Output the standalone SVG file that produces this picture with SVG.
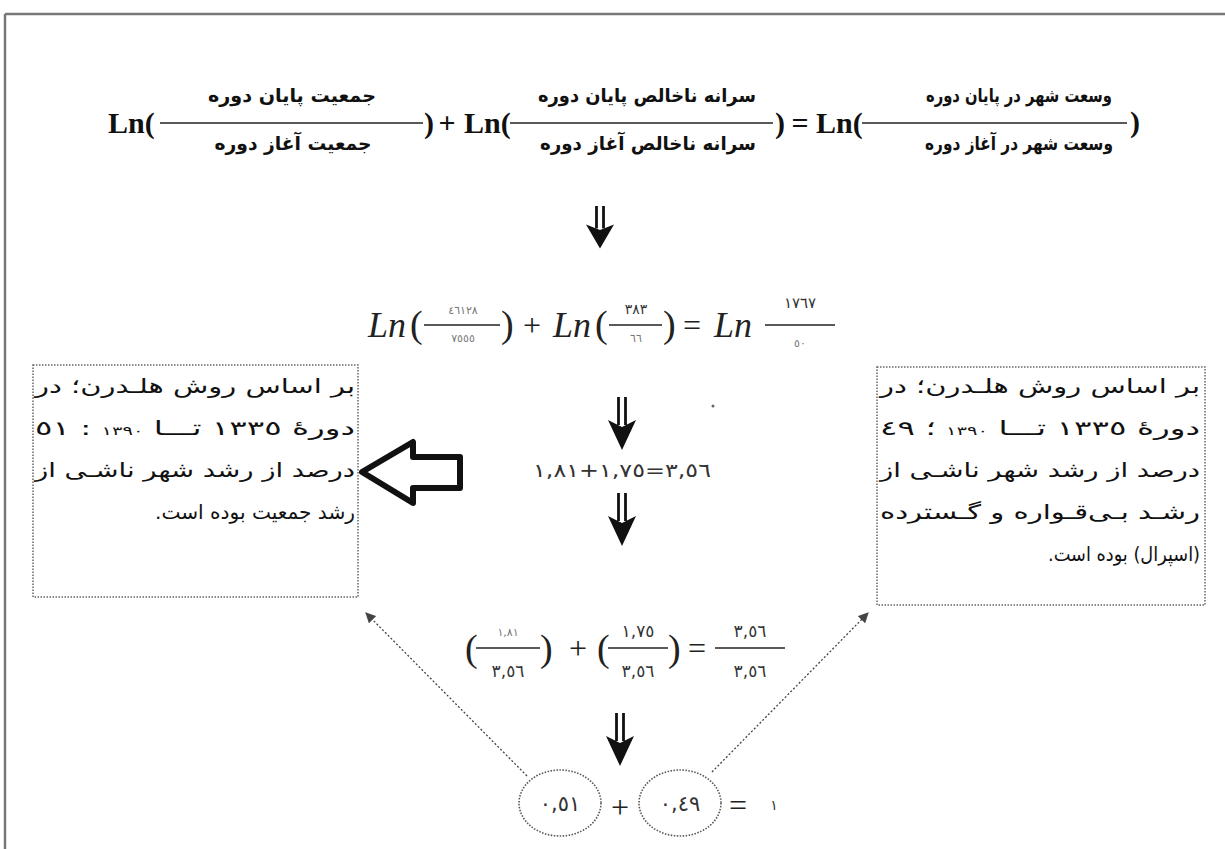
<svg xmlns="http://www.w3.org/2000/svg" width="1225" height="849" viewBox="0 0 1225 849">
<defs>
<style>
.ar{font-family:"DejaVu Sans",sans-serif;direction:rtl}
.hd{font-weight:bold;font-size:19px;fill:#111}
.lnb{font-family:"Liberation Serif",serif;font-weight:bold;font-size:30px;fill:#111}
.lni{font-family:"Liberation Serif",serif;font-style:italic;font-size:36px;fill:#222}
.par{font-family:"Liberation Serif",serif;font-size:38px;fill:#222}
.op{font-family:"Liberation Serif",serif;font-size:32px;fill:#222;text-anchor:middle}
.fl{stroke:#222;stroke-width:1.6}
.dig{font-family:"DejaVu Sans",sans-serif;fill:#333;text-anchor:middle}
.sm{font-size:11px;fill:#777}
.md{font-size:17px}
.box{fill:#fff;stroke:#666;stroke-width:1.5;stroke-dasharray:1.5 1.5}
.bt{font-family:"DejaVu Sans",sans-serif;font-size:20px;fill:#111;direction:rtl}
.dl{stroke:#444;stroke-width:1.3;stroke-dasharray:2 2;fill:none}
.el{fill:#fff;stroke:#555;stroke-width:1.6;stroke-dasharray:1.5 1.5}
</style>
<g id="dbl">
<line x1="-3.5" y1="0" x2="-3.5" y2="28" stroke="#111" stroke-width="2.8"/>
<line x1="3.5" y1="0" x2="3.5" y2="28" stroke="#111" stroke-width="2.8"/>
<polygon points="-14,23 0,30 14,23 0,53" fill="#111"/>
</g>
<marker id="ah" viewBox="0 0 10 10" refX="9" refY="5" markerWidth="8" markerHeight="8" orient="auto"><path d="M0,0 L10,5 L0,10 z" fill="#444"/></marker>
</defs>
<rect width="1225" height="849" fill="#fff"/>
<g id="frame">
<line x1="5" y1="14" x2="1225" y2="14" stroke="#777" stroke-width="2.5"/>
<line x1="5" y1="14" x2="5" y2="849" stroke="#777" stroke-width="2.5"/>
</g>
<g id="eq1">
<text class="lnb" x="108" y="133">Ln(</text>
<line class="fl" x1="160" y1="123" x2="423" y2="123"/>
<text class="ar hd" x="292" y="102" text-anchor="middle" textLength="168" lengthAdjust="spacingAndGlyphs">جمعیت پایان دوره</text>
<text class="ar hd" x="293" y="150" text-anchor="middle" textLength="157" lengthAdjust="spacingAndGlyphs">جمعیت آغاز دوره</text>
<text class="lnb" x="424" y="133">)</text>
<text class="lnb" x="447" y="133" text-anchor="middle">+</text>
<text class="lnb" x="464" y="133">Ln(</text>
<line class="fl" x1="510" y1="123" x2="773" y2="123"/>
<text class="ar hd" x="647" y="102" text-anchor="middle" textLength="218" lengthAdjust="spacingAndGlyphs">سرانه ناخالص پایان دوره</text>
<text class="ar hd" x="648" y="150" text-anchor="middle" textLength="216" lengthAdjust="spacingAndGlyphs">سرانه ناخالص آغاز دوره</text>
<text class="lnb" x="775" y="133">)</text>
<text class="lnb" x="800" y="133" text-anchor="middle">=</text>
<text class="lnb" x="816" y="133">Ln(</text>
<line class="fl" x1="862" y1="123" x2="1127" y2="123"/>
<text class="ar hd" x="1019" y="102" text-anchor="middle" textLength="186" lengthAdjust="spacingAndGlyphs">وسعت شهر در پایان دوره</text>
<text class="ar hd" x="1019" y="150" text-anchor="middle" textLength="188" lengthAdjust="spacingAndGlyphs">وسعت شهر در آغاز دوره</text>
<text class="lnb" x="1130" y="132">)</text>
</g>
<g id="eq2">
<text class="lni" x="368" y="337">Ln</text>
<text class="par" x="410" y="337">(</text>
<line class="fl" x1="424" y1="325" x2="500" y2="325"/>
<text class="dig sm" x="463" y="314">٤٦١٢٨</text>
<text class="dig sm" x="463" y="342">٧٥٥٥</text>
<text class="par" x="501" y="337">)</text>
<text class="op" x="532" y="336">+</text>
<text class="lni" x="553" y="337">Ln</text>
<text class="par" x="595" y="337">(</text>
<line class="fl" x1="609" y1="325" x2="662" y2="325"/>
<text class="dig" x="636" y="314" font-size="14">٣٨٣</text>
<text class="dig sm" x="636" y="342">٦٦</text>
<text class="par" x="663" y="337">)</text>
<text class="op" x="692" y="336">=</text>
<text class="lni" x="714" y="337">Ln</text>
<line class="fl" x1="765" y1="325" x2="835" y2="325"/>
<text class="dig" x="800" y="308" font-size="15">١٧٦٧</text>
<text class="dig sm" x="800" y="347" font-size="10">٥٠</text>
</g>
<g id="eq3">
<text class="dig" x="622" y="477" font-size="19" fill="#222" textLength="178" lengthAdjust="spacingAndGlyphs">١,٨١&#x200E;+&#x200E;١,٧٥&#x200E;=&#x200E;٣,٥٦</text>
</g>
<g id="eq4">
<text class="par" x="465" y="661">(</text>
<line class="fl" x1="476" y1="648" x2="540" y2="648"/>
<text class="dig sm" x="508" y="636">١,٨١</text>
<text class="dig md" x="508" y="677">٣,٥٦</text>
<text class="par" x="540" y="661">)</text>
<text class="op" x="578" y="659">+</text>
<text class="par" x="597" y="661">(</text>
<line class="fl" x1="608" y1="648" x2="668" y2="648"/>
<text class="dig md" x="638" y="637">١,٧٥</text>
<text class="dig md" x="638" y="677">٣,٥٦</text>
<text class="par" x="668" y="661">)</text>
<text class="op" x="697" y="659">=</text>
<line class="fl" x1="715" y1="648" x2="785" y2="648"/>
<text class="dig md" x="750" y="637">٣,٥٦</text>
<text class="dig md" x="750" y="677">٣,٥٦</text>
</g>
<g id="flow-arrows">
<use href="#dbl" transform="translate(600,206) scale(1,0.8)"/>
<use href="#dbl" transform="translate(622,397)"/>
<use href="#dbl" transform="translate(622,493)"/>
<use href="#dbl" transform="translate(620,713)"/>
</g>
<g id="left-box">
<rect class="box" x="33" y="365" width="325" height="232"/>
<text class="bt" x="355" y="393" textLength="320" lengthAdjust="spacingAndGlyphs">بر اساس روش هلـدرن؛ در</text>
<text class="bt" x="355" y="435" textLength="320" lengthAdjust="spacingAndGlyphs">دورهٔ ١٣٣٥ تـــا <tspan font-size="12">١٣٩٠</tspan> : ٥١</text>
<text class="bt" x="355" y="477" textLength="320" lengthAdjust="spacingAndGlyphs">درصد از رشد شهر ناشـی از</text>
<text class="bt" x="355" y="519" textLength="200" lengthAdjust="spacingAndGlyphs">رشد جمعیت بوده است.</text>
</g>
<g id="right-box">
<rect class="box" x="877" y="367" width="328" height="238"/>
<text class="bt" x="1200" y="393" textLength="320" lengthAdjust="spacingAndGlyphs">بر اساس روش هلـدرن؛ در</text>
<text class="bt" x="1200" y="435" textLength="320" lengthAdjust="spacingAndGlyphs">دورهٔ ١٣٣٥ تـــا <tspan font-size="12">١٣٩٠</tspan> ؛ ٤٩</text>
<text class="bt" x="1200" y="477" textLength="320" lengthAdjust="spacingAndGlyphs">درصد از رشد شهر ناشـی از</text>
<text class="bt" x="1200" y="519" textLength="320" lengthAdjust="spacingAndGlyphs">رشـد بـی‌قـواره و گـسترده</text>
<text class="bt" x="1200" y="561" textLength="152" lengthAdjust="spacingAndGlyphs">(اسپرال) بوده است.</text>
</g>
<g id="hollow-arrow">
<polygon points="362,472 413,442 413,457 460,457 460,488 413,488 413,503" fill="#fff" stroke="#111" stroke-width="6" stroke-linejoin="round"/>
</g>
<g id="result">
<ellipse class="el" cx="560" cy="803" rx="41" ry="33"/>
<text class="dig" x="560" y="811" font-size="21" fill="#222">٠,٥١</text>
<text class="op" x="620" y="818" font-size="46">+</text>
<ellipse class="el" cx="680" cy="803" rx="41" ry="33"/>
<text class="dig" x="680" y="811" font-size="21" fill="#222">٠,٤٩</text>
<text class="op" x="738" y="816" font-size="42">=</text>
<text class="dig" x="774" y="810" font-size="14">١</text>
</g>
<g id="connectors">
<line class="dl" x1="527" y1="776" x2="366" y2="613" marker-end="url(#ah)"/>
<line class="dl" x1="712" y1="772" x2="868" y2="613" marker-end="url(#ah)"/>
</g>
<circle cx="713" cy="406" r="1.5" fill="#666"/>
</svg>
